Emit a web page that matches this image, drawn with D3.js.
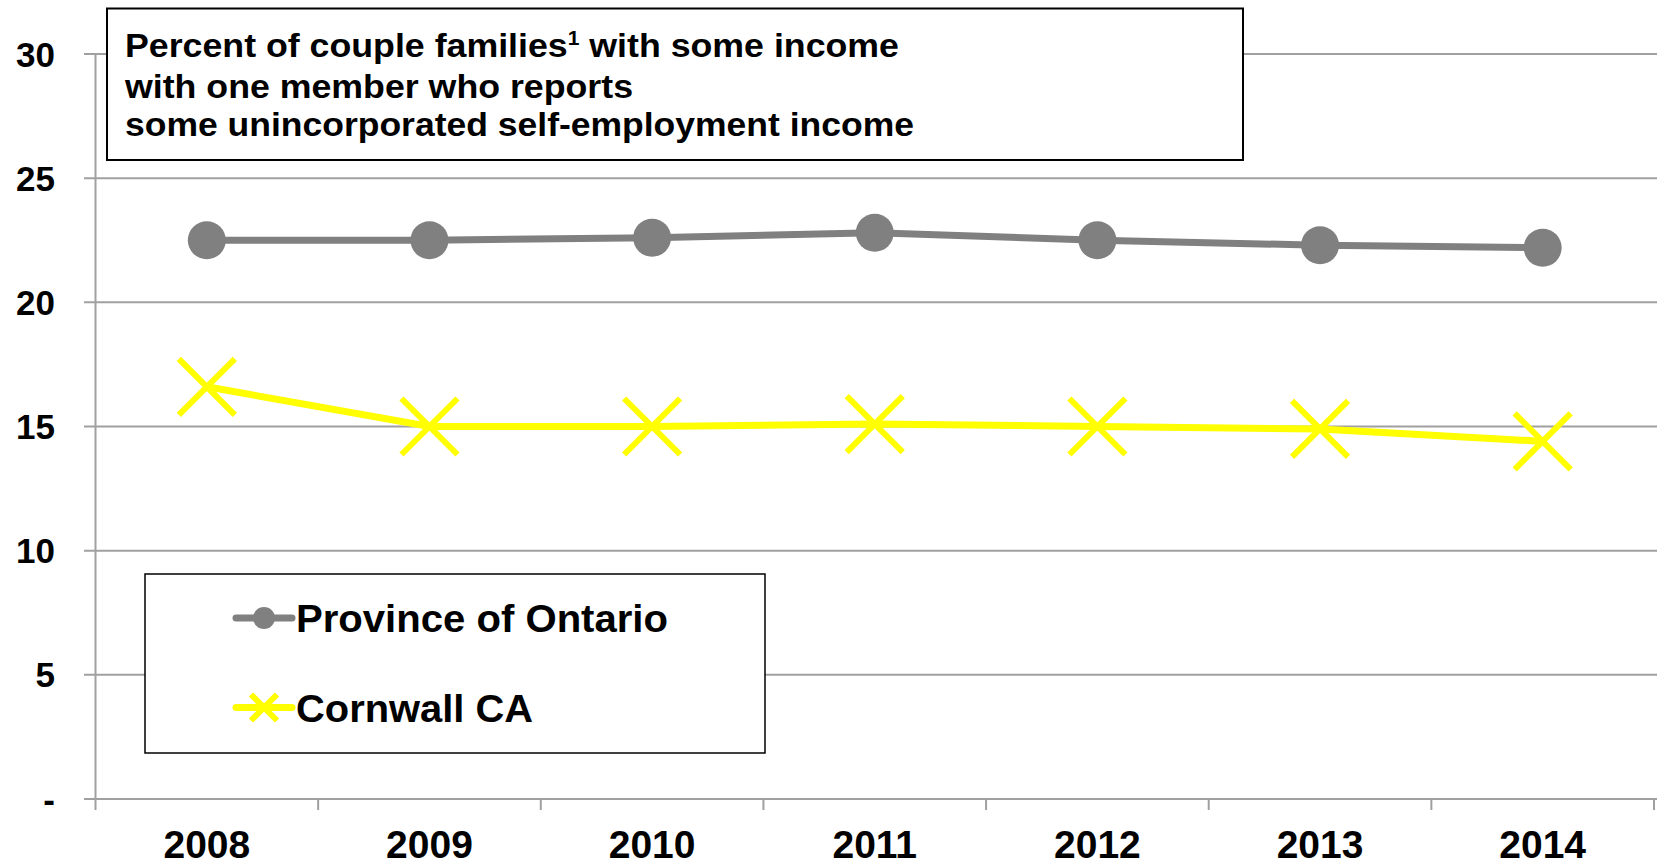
<!DOCTYPE html>
<html>
<head>
<meta charset="utf-8">
<script src="https://cdn.jsdelivr.net/npm/d3@7"></script>
<style>
  html, body { margin: 0; padding: 0; background: #fff; }
  svg { display: block; }
  text { font-family: "Liberation Sans", Arial, sans-serif; font-weight: bold; fill: #000; }
</style>
</head>
<body>
<svg id="chart" width="1661" height="862"></svg>
<script>
const years = ["2008", "2009", "2010", "2011", "2012", "2013", "2014"];
const ontario = [22.5, 22.5, 22.6, 22.8, 22.5, 22.3, 22.2];
const cornwall = [16.6, 15.0, 15.0, 15.1, 15.0, 14.9, 14.4];
const yTicks = [0, 5, 10, 15, 20, 25, 30];
const yTickLabels = ["-", "5", "10", "15", "20", "25", "30"];
const seriesNames = ["Province of Ontario", "Cornwall CA"];
const titleLines = [
  ["Percent of couple families", "1", " with some income"],
  ["with one member who reports"],
  ["some unincorporated self-employment income"]
];

const svg = d3.select("#chart");
const x = d3.scaleBand().domain(years).range([95.5, 1654]).padding(0);
const y = d3.scaleLinear().domain([0, 30]).range([799, 54]);
const gridColor = "#a0a0a0";

// Gridlines
svg.append("g").selectAll("line").data(yTicks).join("line")
  .attr("x1", 84).attr("x2", 1657)
  .attr("y1", d => y(d)).attr("y2", d => y(d))
  .attr("stroke", gridColor).attr("stroke-width", 2);

// Y axis line
svg.append("line").attr("x1", 95.5).attr("x2", 95.5).attr("y1", y(30)).attr("y2", y(0) + 11)
  .attr("stroke", gridColor).attr("stroke-width", 2);

// X axis ticks at band boundaries
const bounds = years.map(d => x(d)).concat([x(years[years.length - 1]) + x.bandwidth()]);
svg.append("g").selectAll("line").data(bounds.slice(1)).join("line")
  .attr("x1", d => d).attr("x2", d => d).attr("y1", y(0)).attr("y2", y(0) + 11)
  .attr("stroke", gridColor).attr("stroke-width", 2);

// Y tick labels
svg.append("g").selectAll("text").data(yTicks).join("text")
  .attr("x", 55).attr("y", d => y(d)).attr("dy", "0.36em")
  .attr("text-anchor", "end").style("font-size", "35px")
  .text((d, i) => yTickLabels[i]);

// X labels
svg.append("g").selectAll("text").data(years).join("text")
  .attr("x", d => x(d) + x.bandwidth() / 2).attr("y", 858)
  .attr("text-anchor", "middle").style("font-size", "39px")
  .text(d => d);

// Title box
svg.append("rect").attr("x", 107).attr("y", 8.5).attr("width", 1136).attr("height", 151.5)
  .attr("fill", "#fff").attr("stroke", "#000").attr("stroke-width", 2);
const titleBase = [57, 97.5, 136];
const titleWidths = [774, 508, 789];
titleLines.forEach((parts, li) => {
  const t = svg.append("text").attr("x", 125).attr("y", titleBase[li]).style("font-size", "34px")
    .attr("textLength", titleWidths[li]).attr("lengthAdjust", "spacingAndGlyphs");
  parts.forEach((p, pi) => {
    const ts = t.append("tspan").text(p);
    if (p === "1") ts.style("font-size", "20px").attr("dy", "-12");
    if (pi === 2) ts.attr("dy", "12");
  });
});

// Lines
const line = d3.line().x((d, i) => x(years[i]) + x.bandwidth() / 2).y(d => y(d));
svg.append("path").datum(ontario).attr("d", line).attr("fill", "none")
  .attr("stroke", "#808080").attr("stroke-width", 7);
svg.append("path").datum(cornwall).attr("d", line).attr("fill", "none")
  .attr("stroke", "#ffff00").attr("stroke-width", 7);

// Markers
svg.append("g").selectAll("circle").data(ontario).join("circle")
  .attr("cx", (d, i) => x(years[i]) + x.bandwidth() / 2).attr("cy", d => y(d))
  .attr("r", 19).attr("fill", "#808080");
const xs = 28;
svg.append("g").selectAll("path").data(cornwall).join("path")
  .attr("d", (d, i) => {
    const cx = x(years[i]) + x.bandwidth() / 2, cy = y(d);
    return `M${cx - xs},${cy - xs}L${cx + xs},${cy + xs}M${cx - xs},${cy + xs}L${cx + xs},${cy - xs}`;
  })
  .attr("stroke", "#ffff00").attr("stroke-width", 6).attr("fill", "none");

// Legend
svg.append("rect").attr("x", 145).attr("y", 574).attr("width", 620).attr("height", 179)
  .attr("fill", "#fff").attr("stroke", "#000").attr("stroke-width", 1.5);
const legY = [618, 707.5];
const legW = [372, 237];
const leg = svg.append("g");
leg.append("line").attr("x1", 236).attr("x2", 292).attr("y1", legY[0]).attr("y2", legY[0])
  .attr("stroke", "#808080").attr("stroke-width", 7).attr("stroke-linecap", "round");
leg.append("circle").attr("cx", 264).attr("cy", legY[0]).attr("r", 11).attr("fill", "#808080");
leg.append("line").attr("x1", 236).attr("x2", 292).attr("y1", legY[1]).attr("y2", legY[1])
  .attr("stroke", "#ffff00").attr("stroke-width", 7).attr("stroke-linecap", "round");
const ls = 13;
leg.append("path")
  .attr("d", `M${264 - ls},${legY[1] - ls}L${264 + ls},${legY[1] + ls}M${264 - ls},${legY[1] + ls}L${264 + ls},${legY[1] - ls}`)
  .attr("stroke", "#ffff00").attr("stroke-width", 6);
leg.selectAll("text").data(seriesNames).join("text")
  .attr("x", 296).attr("y", (d, i) => legY[i] + 14)
  .style("font-size", "38px")
  .attr("textLength", (d, i) => legW[i]).attr("lengthAdjust", "spacingAndGlyphs")
  .text(d => d);
</script>
</body>
</html>
